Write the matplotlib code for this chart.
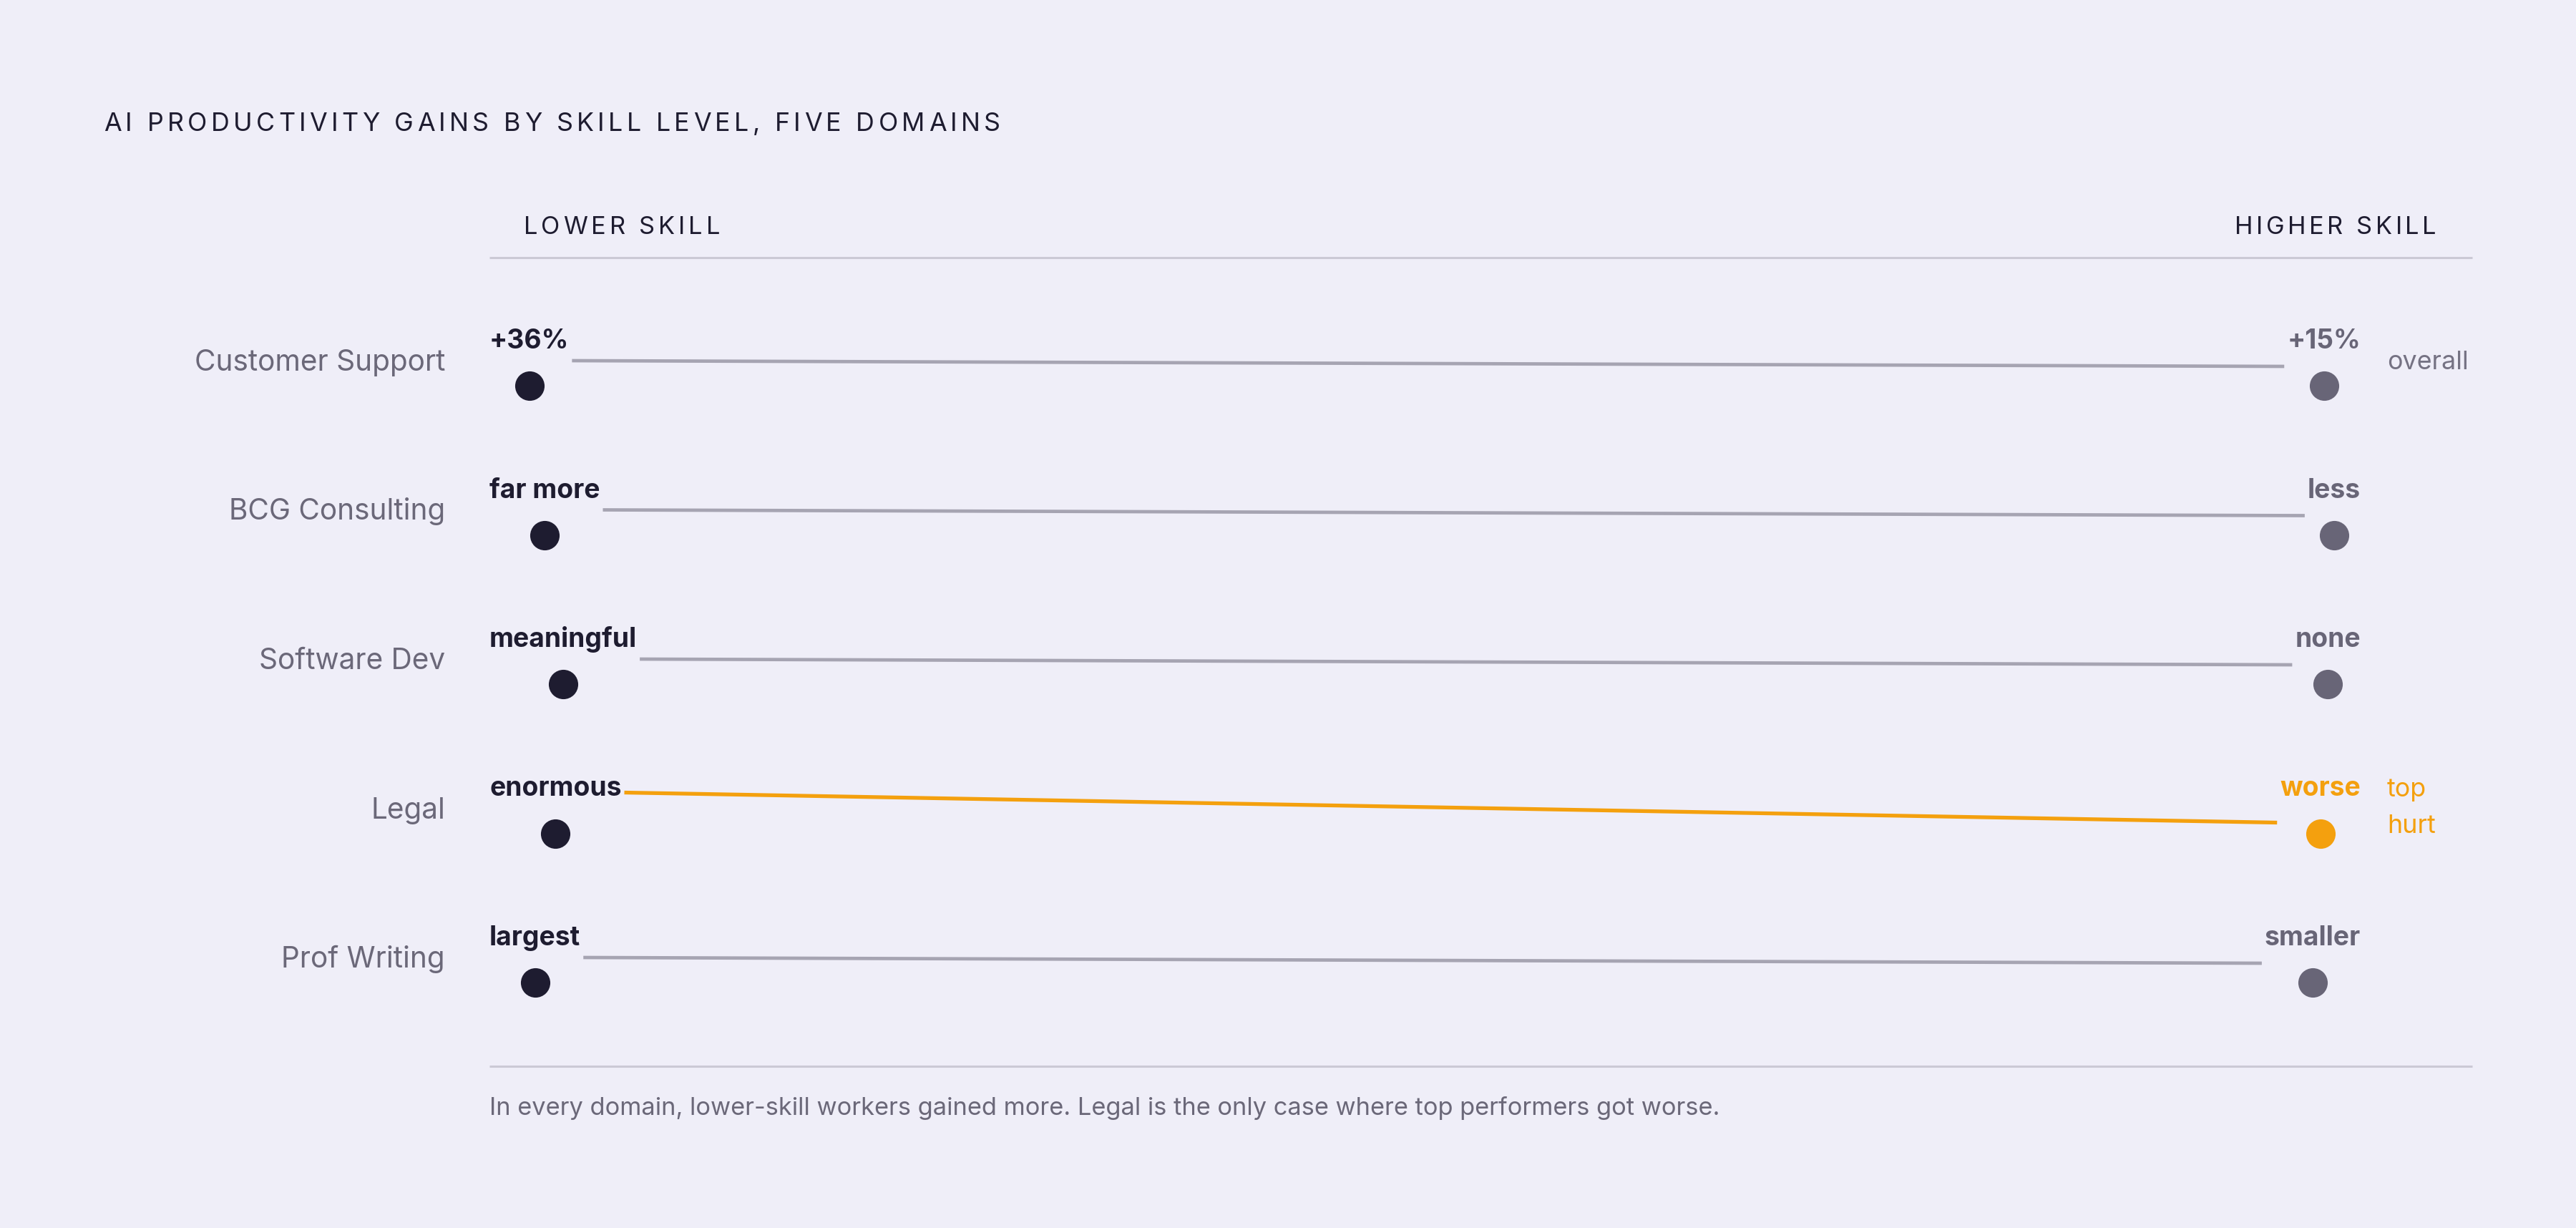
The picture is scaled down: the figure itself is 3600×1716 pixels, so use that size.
import matplotlib.pyplot as plt

# data
domains = ['Customer Support', 'BCG Consulting', 'Software Dev', 'Legal', 'Prof Writing']
low_labels = ['+36%', 'far more', 'meaningful', 'enormous', 'largest']
high_labels = ['+15%', 'less', 'none', 'worse', 'smaller']
notes = ['overall', '', '', 'top\nhurt', '']
highlight = [False, False, False, True, False]
# connector lift above the label baseline at each end (how steep the drop is)
lift_low = [14, 14, 14, 36, 14]
lift_high = [6, 6, 6, -6, 6]

title = 'AI PRODUCTIVITY GAINS BY SKILL LEVEL, FIVE DOMAINS'
left_head = 'LOWER SKILL'
right_head = 'HIGHER SKILL'
footer = ('In every domain, lower-skill workers gained more. '
          'Legal is the only case where top performers got worse.')

# style
BG = '#EFEEF8'
DARK = '#1E1C30'
GREY = '#686577'
LABEL = '#6B6879'
LINE = '#A6A4B2'
RULE = '#CBC9D5'
ORANGE = '#F4A00E'

plt.rcParams['font.family'] = ['Inter', 'DejaVu Sans']

W, H = 3600, 1716
fig = plt.figure(figsize=(18, 8.58), dpi=200)
fig.patch.set_facecolor(BG)
ax = fig.add_axes([0, 0, 1, 1])
ax.set_xlim(0, W)
ax.set_ylim(H, 0)
ax.axis('off')
r = fig.canvas.get_renderer()


def width_of(s, **kw):
    t = ax.text(0, 0, s, **kw)
    w = t.get_window_extent(r).width
    t.remove()
    return w


def tracked(x, y, s, width, ha='left', **kw):
    # spread characters so the string spans the given width
    wh = width_of('H', **kw)
    pos = [0] + [width_of(s[:i] + 'H', **kw) - wh for i in range(1, len(s))]
    gap = (width - width_of(s, **kw)) / (len(s) - 1)
    if ha == 'right':
        x = x - width
    for i, c in enumerate(s):
        if c != ' ':
            ax.text(x + pos[i] + i * gap, y, c, va='baseline', **kw)


tracked(145, 183, title, 1253, fontsize=12.9, color=DARK)
tracked(732, 327, left_head, 274, fontsize=12.4, color=DARK)
tracked(3405, 327, right_head, 282, ha='right', fontsize=12.4, color=DARK)

ax.plot([684, 3455], [360, 360], color=RULE, lw=1.1, solid_capstyle='butt')
ax.plot([684, 3455], [1490, 1490], color=RULE, lw=1.1, solid_capstyle='butt')

for i, name in enumerate(domains):
    base = 518 + i * 208.5
    hi_col = ORANGE if highlight[i] else GREY
    ax.text(622, base, name, ha='right', va='baseline', fontsize=14.6, color=LABEL)
    lt = ax.text(684, base - 31, low_labels[i], ha='left', va='baseline',
                 fontsize=13.4, fontweight='bold', color=DARK)
    ht = ax.text(3299, base - 31, high_labels[i], ha='right', va='baseline',
                 fontsize=13.4, fontweight='bold', color=hi_col)
    lb = lt.get_window_extent(r)
    hb = ht.get_window_extent(r)
    ax.plot([lb.x1 + 4, hb.x0 - 4], [base - lift_low[i], base - lift_high[i]],
            color=ORANGE if highlight[i] else LINE,
            lw=1.9 if highlight[i] else 1.7, solid_capstyle='butt')
    ax.scatter([(lb.x0 + lb.x1) / 2], [base + 21], s=219, color=DARK, lw=0, zorder=3)
    ax.scatter([(hb.x0 + hb.x1) / 2], [base + 21], s=219, color=hi_col, lw=0, zorder=3)
    if notes[i]:
        lines = notes[i].split('\n')
        y0 = base - 2 - 28 * (len(lines) - 1)
        for k, ln in enumerate(lines):
            ax.text(3336, y0 + k * 51, ln, ha='left', va='baseline', fontsize=12.9,
                    color=ORANGE if highlight[i] else '#757283')

ax.text(684, 1558, footer, ha='left', va='baseline', fontsize=12.4, color=LABEL)

fig.savefig('out.png', dpi=200, facecolor=BG)
